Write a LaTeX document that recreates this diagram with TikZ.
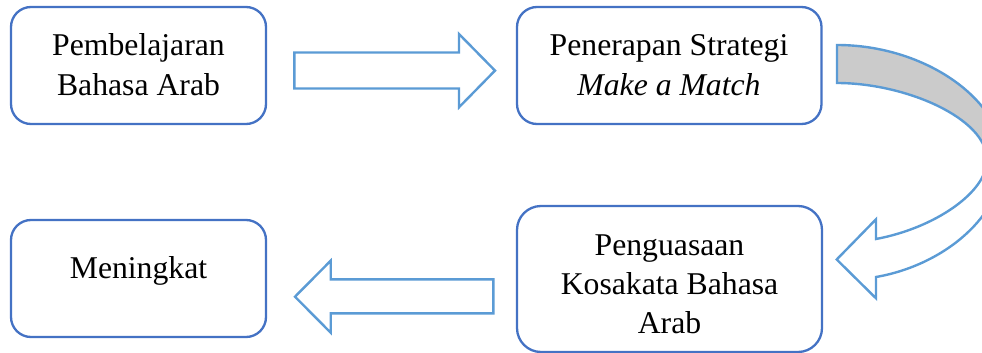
\documentclass[tikz,border=0pt]{standalone}
\usepackage{fontspec}
\setmainfont{Liberation Serif}
\definecolor{boxblue}{HTML}{4472C4}
\definecolor{arrblue}{HTML}{5B9BD5}
\definecolor{bandgray}{HTML}{CBCBCB}
\begin{document}
\begin{tikzpicture}[x=1pt,y=-1pt,
  box/.style={draw=boxblue, line width=2.3pt, fill=white, inner sep=0pt, rectangle},
  blockarrow/.style={draw=arrblue, line width=2.4pt, fill=white, line join=miter},
  lbl/.style={font=\fontsize{31.7}{38}\selectfont, anchor=base, inner sep=0pt},
]
\useasboundingbox (0,0) rectangle (982,353);
\clip (0,0) rectangle (982,353);

% boxes
\node[box, rounded corners=20pt, minimum width=255pt, minimum height=117pt] (b1) at (138.5,65.5) {};
\node[box, rounded corners=20pt, minimum width=304.5pt, minimum height=117pt] (b2) at (669.25,65.5) {};
\node[box, rounded corners=24pt, minimum width=305pt, minimum height=146pt] (b3) at (669.5,279) {};
\node[box, rounded corners=20pt, minimum width=255pt, minimum height=117pt] (b4) at (138.5,278.5) {};

% texts
\node[lbl] (t1a) at (138.5,56) {Pembelajaran};
\node[lbl] (t1b) at (138.5,95) {Bahasa Arab};
\node[lbl] (t2a) at (669,55.5) {Penerapan Strategi};
\node[lbl] (t2b) at (669,95) {\itshape Make a Match};
\node[lbl] (t3a) at (669.5,255.5) {Penguasaan};
\node[lbl] (t3b) at (669.5,294.5) {Kosakata Bahasa};
\node[lbl] (t3c) at (669.5,333.5) {Arab};
\node[lbl] (t4a) at (138.5,278.3) {Meningkat};

% right block arrow
\draw[blockarrow] (294.3,52.5) -- (459,52.5) -- (459,34) -- (495,70.6) -- (459,107.3) -- (459,88.5) -- (294.3,88.5) -- cycle;

% left block arrow
\draw[blockarrow] (493.3,279.3) -- (330.7,279.3) -- (330.7,260.7) -- (295,296.7) -- (330.7,332.7) -- (330.7,313.3) -- (493.3,313.3) -- cycle;

% curved arrow
\fill[bandgray] (837,45) .. controls (925,45) and (1003,100) .. (1003,160) -- (987,160) .. controls (987,118) and (905,83) .. (837,83) -- cycle;
\draw[draw=arrblue, line width=2.4pt, line join=miter]
  (837,83) -- (837,45) .. controls (925,45) and (1003,100) .. (1003,160)
  .. controls (1003,215) and (945,265) .. (876,277)
  -- (876,298.3) -- (836.7,259.5) -- (876,219.3) -- (876,239)
  .. controls (935,228) and (987,192) .. (987,160)
  .. controls (987,118) and (905,83) .. (837,83) -- cycle;
\end{tikzpicture}
\end{document}
